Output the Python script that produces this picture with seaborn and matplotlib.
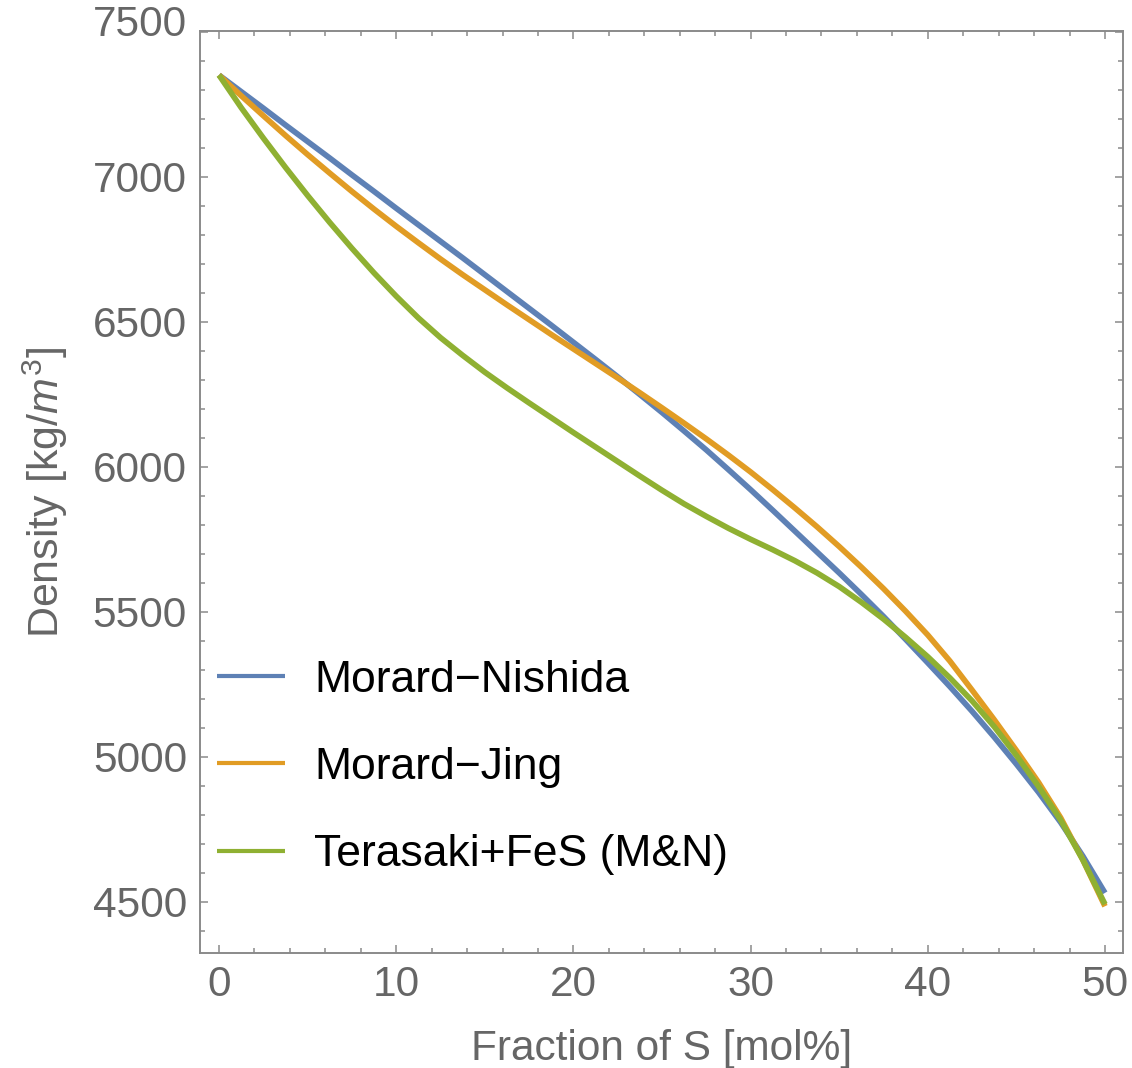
import numpy as np
import pandas as pd
import matplotlib
matplotlib.use("Agg")
import matplotlib.pyplot as plt
import matplotlib.transforms as mtransforms
from matplotlib.lines import Line2D
from matplotlib.ticker import MultipleLocator
import seaborn as sns

# ---------------- data ----------------
x_mol = [0, 1.25, 2.5, 3.75, 5, 6.25, 7.5, 8.75, 10, 11.25, 12.5, 13.75, 15,
         16.25, 17.5, 18.75, 20, 21.25, 22.5, 23.75, 25, 26.25, 27.5, 28.75,
         30, 31.25, 32.5, 33.75, 35, 36.25, 37.5, 38.75, 40, 41.25, 42.5,
         43.75, 45, 46.25, 47.5, 48.75, 50]
morard_nishida = [7350, 7293, 7236, 7178, 7121, 7064, 7006, 6949, 6891, 6834,
                  6777, 6720, 6662, 6604, 6546, 6488, 6429, 6370, 6310, 6249,
                  6187, 6123, 6058, 5990, 5921, 5850, 5778, 5706, 5634, 5560,
                  5484, 5405, 5324, 5242, 5157, 5068, 4975, 4878, 4774, 4658,
                  4531]
morard_jing = [7350, 7279, 7210, 7142, 7076, 7012, 6949, 6888, 6829, 6772,
               6716, 6662, 6610, 6558, 6507, 6456, 6406, 6356, 6306, 6255,
               6203, 6150, 6096, 6040, 5982, 5921, 5858, 5793, 5725, 5654,
               5580, 5502, 5420, 5330, 5230, 5128, 5022, 4912, 4790, 4645,
               4485]
terasaki_fes = [7350, 7238, 7133, 7032, 6935, 6842, 6753, 6668, 6588, 6513,
                6445, 6384, 6326, 6272, 6220, 6169, 6118, 6068, 6018, 5968,
                5919, 5872, 5829, 5788, 5750, 5714, 5676, 5634, 5587, 5533,
                5475, 5412, 5345, 5272, 5193, 5104, 5005, 4898, 4782, 4645,
                4492]
series_names = ["Morard\u2212Nishida", "Morard\u2212Jing", "Terasaki+FeS (M&N)"]
series_colors = ["#5E81B5", "#E19C24", "#8FB032"]
x_ticks = [0, 10, 20, 30, 40, 50]
y_ticks = [4500, 5000, 5500, 6000, 6500, 7000, 7500]
x_label = "Fraction of S [mol%]"
y_label = "Density [kg/$m^3$]"

n = len(x_mol)
df = pd.DataFrame({
    "x": x_mol * 3,
    "density": morard_nishida + morard_jing + terasaki_fes,
    "model": [series_names[0]] * n + [series_names[1]] * n + [series_names[2]] * n,
})

# ---------------- style ----------------
sns.set_theme(style="ticks")
plt.rcParams["font.family"] = ["Liberation Sans", "DejaVu Sans"]
plt.rcParams["mathtext.fontset"] = "custom"
plt.rcParams["mathtext.rm"] = "Liberation Sans"
plt.rcParams["mathtext.it"] = "Liberation Sans:italic"

frame_col = "#8a8a8a"
label_col = "#666666"
tick_fs = 30.5
lab_fs = 30.5

fig = plt.figure(figsize=(11.32, 10.68), dpi=100)
ax = fig.add_axes([0.1767, 0.1077, 0.8154, 0.8633])

sns.lineplot(data=df, x="x", y="density", hue="model", hue_order=series_names,
             palette=series_colors, linewidth=4.1, estimator=None, sort=False,
             legend=False, ax=ax)
for ln in ax.get_lines():
    ln.set_solid_capstyle("butt")
    ln.set_solid_joinstyle("round")

ax.set_xlim(-1.07, 51.02)
ax.set_ylim(4324, 7502)

ax.set_xticks(x_ticks)
ax.set_xticklabels([str(v) for v in x_ticks])
ax.set_yticks(y_ticks)
ax.set_yticklabels([str(v) if v != 7500 else "" for v in y_ticks])
ax.xaxis.set_minor_locator(MultipleLocator(2))
ax.yaxis.set_minor_locator(MultipleLocator(100))

for s in ax.spines.values():
    s.set_visible(True)
    s.set_color(frame_col)
    s.set_linewidth(1.4)

ax.tick_params(which="both", direction="in", top=True, right=True,
               color=frame_col, width=1.1)
ax.tick_params(which="major", length=5.8)
ax.tick_params(which="minor", length=3.3)
ax.tick_params(axis="x", which="major", labelsize=tick_fs, labelcolor=label_col, pad=8.5)
ax.tick_params(axis="y", which="major", labelsize=tick_fs, labelcolor=label_col, pad=9.4)

# top label, slightly raised as in the reference
off = mtransforms.ScaledTranslation(-9.4 / 72, 11 / 100, fig.dpi_scale_trans)
ax.text(0, 7500, "7500", transform=ax.get_yaxis_transform() + off,
        ha="right", va="center_baseline", fontsize=tick_fs, color=label_col)

ax.set_xlabel(x_label, fontsize=lab_fs, color=label_col)
ax.set_ylabel(y_label, fontsize=lab_fs + 0.5, color=label_col)
ax.xaxis.set_label_coords(0.5, -0.082)
ax.yaxis.set_label_coords(-0.141, 0.5)

handles = [Line2D([], [], color=c, linewidth=3.0, solid_capstyle="butt")
           for c in series_colors]
leg = ax.legend(handles, series_names, loc="upper left",
                bbox_to_anchor=(0.0184, 0.318), frameon=False, fontsize=32,
                handlelength=1.53, handletextpad=0.66, labelspacing=1.04,
                borderpad=0, borderaxespad=0)
for t in leg.get_texts():
    t.set_color("black")

fig.savefig("out.png", dpi=100)
